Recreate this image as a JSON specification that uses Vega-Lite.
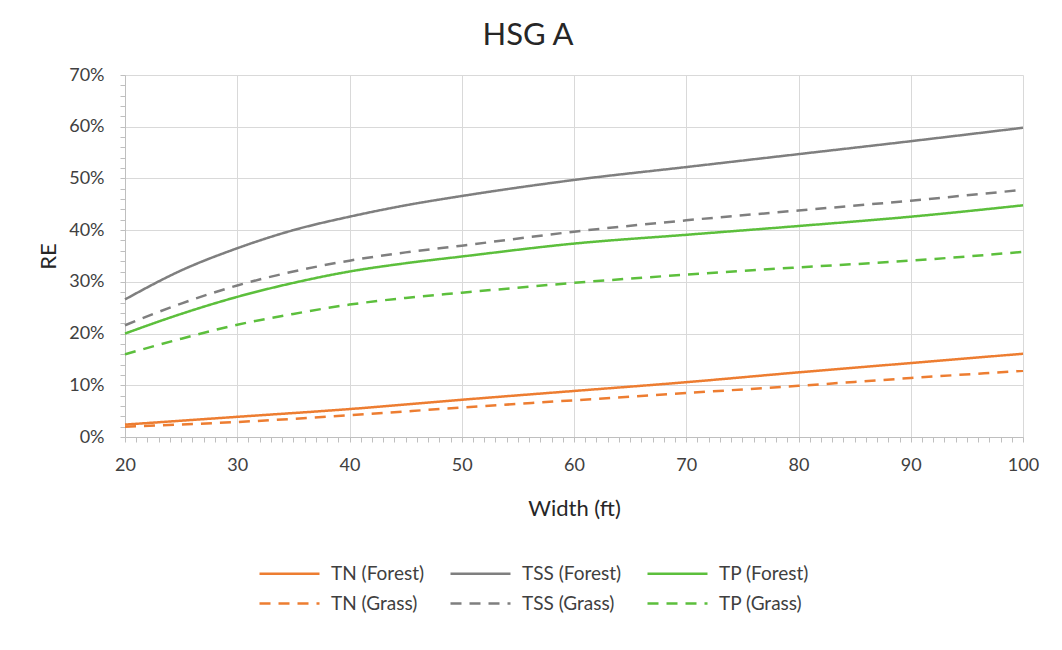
{
  "$schema": "https://vega.github.io/schema/vega-lite/v6.json",
  "width": 898,
  "height": 362,
  "autosize": {"type": "none"},
  "padding": {"left": 125, "top": 75, "right": 39, "bottom": 213},
  "background": "white",
  "config": {
    "font": "Lato",
    "view": {"stroke": null},
    "axis": {
      "labelFont": "Lato",
      "titleFont": "Lato",
      "labelColor": "#404040",
      "titleColor": "#262626",
      "titleFontWeight": "normal",
      "gridColor": "#d9d9d9",
      "gridWidth": 1,
      "domainColor": "#bfbfbf",
      "tickColor": "#bfbfbf"
    }
  },
  "title": {
    "text": "HSG A",
    "font": "Lato",
    "fontSize": 31,
    "fontWeight": "normal",
    "color": "#262626",
    "anchor": "middle",
    "dx": -46,
    "offset": 14
  },
  "data": {
    "values": [
      {"w": 20, "re": 0.024, "s": "TN (Forest)"},
      {"w": 30, "re": 0.039, "s": "TN (Forest)"},
      {"w": 40, "re": 0.054, "s": "TN (Forest)"},
      {"w": 50, "re": 0.072, "s": "TN (Forest)"},
      {"w": 60, "re": 0.089, "s": "TN (Forest)"},
      {"w": 70, "re": 0.106, "s": "TN (Forest)"},
      {"w": 80, "re": 0.125, "s": "TN (Forest)"},
      {"w": 90, "re": 0.143, "s": "TN (Forest)"},
      {"w": 100, "re": 0.161, "s": "TN (Forest)"},
      {"w": 20, "re": 0.266, "s": "TSS (Forest)"},
      {"w": 25, "re": 0.322, "s": "TSS (Forest)"},
      {"w": 30, "re": 0.365, "s": "TSS (Forest)"},
      {"w": 35, "re": 0.400, "s": "TSS (Forest)"},
      {"w": 40, "re": 0.426, "s": "TSS (Forest)"},
      {"w": 45, "re": 0.448, "s": "TSS (Forest)"},
      {"w": 50, "re": 0.466, "s": "TSS (Forest)"},
      {"w": 60, "re": 0.497, "s": "TSS (Forest)"},
      {"w": 70, "re": 0.522, "s": "TSS (Forest)"},
      {"w": 80, "re": 0.547, "s": "TSS (Forest)"},
      {"w": 90, "re": 0.572, "s": "TSS (Forest)"},
      {"w": 100, "re": 0.598, "s": "TSS (Forest)"},
      {"w": 20, "re": 0.200, "s": "TP (Forest)"},
      {"w": 25, "re": 0.238, "s": "TP (Forest)"},
      {"w": 30, "re": 0.271, "s": "TP (Forest)"},
      {"w": 35, "re": 0.298, "s": "TP (Forest)"},
      {"w": 40, "re": 0.320, "s": "TP (Forest)"},
      {"w": 45, "re": 0.336, "s": "TP (Forest)"},
      {"w": 50, "re": 0.349, "s": "TP (Forest)"},
      {"w": 60, "re": 0.374, "s": "TP (Forest)"},
      {"w": 70, "re": 0.391, "s": "TP (Forest)"},
      {"w": 80, "re": 0.408, "s": "TP (Forest)"},
      {"w": 90, "re": 0.426, "s": "TP (Forest)"},
      {"w": 100, "re": 0.448, "s": "TP (Forest)"},
      {"w": 20, "re": 0.020, "s": "TN (Grass)"},
      {"w": 30, "re": 0.029, "s": "TN (Grass)"},
      {"w": 40, "re": 0.042, "s": "TN (Grass)"},
      {"w": 50, "re": 0.057, "s": "TN (Grass)"},
      {"w": 60, "re": 0.071, "s": "TN (Grass)"},
      {"w": 70, "re": 0.085, "s": "TN (Grass)"},
      {"w": 80, "re": 0.099, "s": "TN (Grass)"},
      {"w": 90, "re": 0.114, "s": "TN (Grass)"},
      {"w": 100, "re": 0.128, "s": "TN (Grass)"},
      {"w": 20, "re": 0.216, "s": "TSS (Grass)"},
      {"w": 25, "re": 0.258, "s": "TSS (Grass)"},
      {"w": 30, "re": 0.293, "s": "TSS (Grass)"},
      {"w": 35, "re": 0.320, "s": "TSS (Grass)"},
      {"w": 40, "re": 0.341, "s": "TSS (Grass)"},
      {"w": 45, "re": 0.357, "s": "TSS (Grass)"},
      {"w": 50, "re": 0.370, "s": "TSS (Grass)"},
      {"w": 60, "re": 0.397, "s": "TSS (Grass)"},
      {"w": 70, "re": 0.419, "s": "TSS (Grass)"},
      {"w": 80, "re": 0.438, "s": "TSS (Grass)"},
      {"w": 90, "re": 0.457, "s": "TSS (Grass)"},
      {"w": 100, "re": 0.478, "s": "TSS (Grass)"},
      {"w": 20, "re": 0.160, "s": "TP (Grass)"},
      {"w": 25, "re": 0.190, "s": "TP (Grass)"},
      {"w": 30, "re": 0.217, "s": "TP (Grass)"},
      {"w": 35, "re": 0.238, "s": "TP (Grass)"},
      {"w": 40, "re": 0.256, "s": "TP (Grass)"},
      {"w": 45, "re": 0.269, "s": "TP (Grass)"},
      {"w": 50, "re": 0.279, "s": "TP (Grass)"},
      {"w": 60, "re": 0.298, "s": "TP (Grass)"},
      {"w": 70, "re": 0.314, "s": "TP (Grass)"},
      {"w": 80, "re": 0.328, "s": "TP (Grass)"},
      {"w": 90, "re": 0.341, "s": "TP (Grass)"},
      {"w": 100, "re": 0.358, "s": "TP (Grass)"}
    ]
  },
  "mark": {"type": "line", "interpolate": "monotone", "strokeWidth": 2.5},
  "encoding": {
    "x": {
      "field": "w",
      "type": "quantitative",
      "scale": {"domain": [20, 100], "nice": false, "zero": false},
      "axis": {
        "title": "Width (ft)",
        "titleFontSize": 22,
        "titlePadding": 24,
        "labelFontSize": 18,
        "labelPadding": 14,
        "tickSize": 5,
        "values": [20,21,22,23,24,25,26,27,28,29,30,31,32,33,34,35,36,37,38,39,40,41,42,43,44,45,46,47,48,49,50,51,52,53,54,55,56,57,58,59,60,61,62,63,64,65,66,67,68,69,70,71,72,73,74,75,76,77,78,79,80,81,82,83,84,85,86,87,88,89,90,91,92,93,94,95,96,97,98,99,100],
        "labelExpr": "datum.value % 10 === 0 ? datum.label : ''",
        "gridOpacity": {"condition": {"test": "datum.value % 10 === 0", "value": 1}, "value": 0},
        "labelFlush": false,
        "labelOverlap": false
      }
    },
    "y": {
      "field": "re",
      "type": "quantitative",
      "scale": {"domain": [0, 0.7], "nice": false},
      "axis": {
        "title": "RE",
        "titleFontSize": 22,
        "titlePadding": 8,
        "labelFontSize": 18,
        "labelPadding": 16,
        "tickSize": 5,
        "format": ".0%",
        "values": [0,0.02,0.04,0.06,0.08,0.1,0.12,0.14,0.16,0.18,0.2,0.22,0.24,0.26,0.28,0.3,0.32,0.34,0.36,0.38,0.4,0.42,0.44,0.46,0.48,0.5,0.52,0.54,0.56,0.58,0.6,0.62,0.64,0.66,0.68,0.7],
        "labelExpr": "round(datum.value * 100) % 10 === 0 ? datum.label : ''",
        "gridOpacity": {"condition": {"test": "round(datum.value * 100) % 10 === 0", "value": 1}, "value": 0},
        "labelOverlap": false
      }
    },
    "color": {
      "field": "s",
      "type": "nominal",
      "scale": {
        "domain": ["TN (Forest)", "TSS (Forest)", "TP (Forest)", "TN (Grass)", "TSS (Grass)", "TP (Grass)"],
        "range": ["#ed7d31", "#7f7f7f", "#5cbf3c", "#ed7d31", "#7f7f7f", "#5cbf3c"]
      },
      "legend": {
        "title": null,
        "orient": "none",
        "legendX": 148,
        "legendY": 482,
        "direction": "horizontal",
        "columns": 3,
        "symbolType": "M-2,0H2",
        "symbolSize": 900,
        "symbolStrokeWidth": 2.5,
        "labelFont": "Lato",
        "labelFontSize": 19,
        "labelColor": "#404040",
        "labelOffset": 25,
        "columnPadding": 20,
        "rowPadding": 3,
        "labelLimit": 300
      }
    },
    "strokeDash": {
      "field": "s",
      "type": "nominal",
      "scale": {
        "domain": ["TN (Forest)", "TSS (Forest)", "TP (Forest)", "TN (Grass)", "TSS (Grass)", "TP (Grass)"],
        "range": [[1, 0], [1, 0], [1, 0], [11, 8], [11, 8], [11, 8]]
      },
      "legend": null
    }
  }
}
